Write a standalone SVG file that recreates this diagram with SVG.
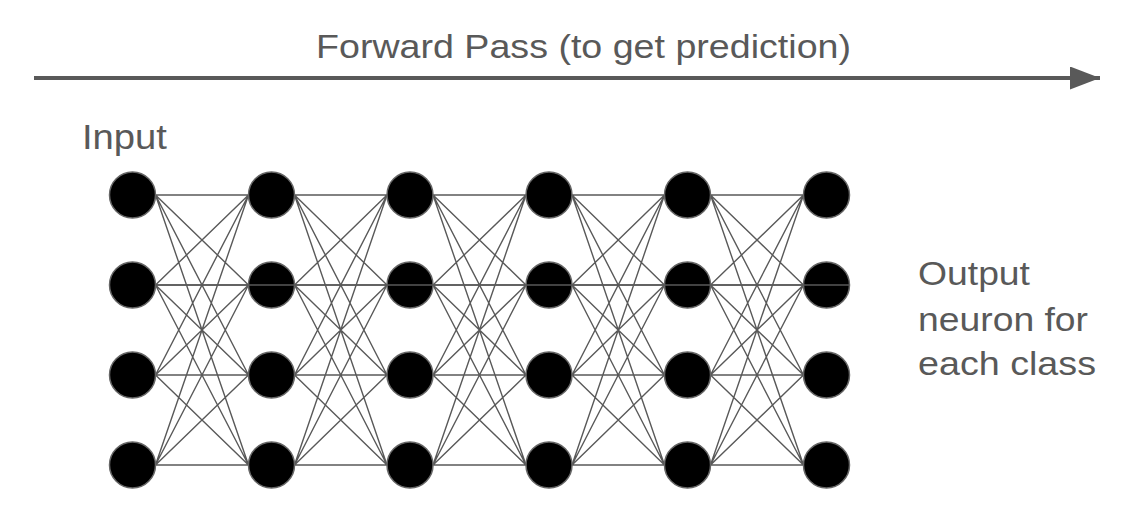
<svg xmlns="http://www.w3.org/2000/svg" width="1141" height="514" viewBox="0 0 1141 514">
<style>
.t{font-family:"Liberation Sans",Arial,sans-serif;fill:#595959;font-size:32.5px}
.c{stroke:#595959;stroke-width:1.4;fill:none}
.n{fill:#000;stroke:#666;stroke-width:1.5}
</style>
<defs>
<marker id="ah" markerUnits="userSpaceOnUse" markerWidth="32" markerHeight="24" refX="30" refY="11.5" orient="auto">
<path d="M0,0 L30,11.5 L0,23 Z" fill="#595959"/>
</marker>
</defs>
<rect width="1141" height="514" fill="#fff"/>
<g id="title">
<text class="t" x="316" y="57.5" style="font-size:34px" textLength="535" lengthAdjust="spacingAndGlyphs">Forward Pass (to get prediction)</text>
<line x1="34" y1="78" x2="1100" y2="78" stroke="#595959" stroke-width="4" marker-end="url(#ah)"/>
</g>
<g id="label-input">
<text class="t" x="82" y="149" style="font-size:35px" textLength="85" lengthAdjust="spacingAndGlyphs">Input</text>
</g>
<g id="label-output">
<text class="t" x="918" y="285" textLength="112" lengthAdjust="spacingAndGlyphs">Output</text>
<text class="t" x="918" y="330.5" textLength="170" lengthAdjust="spacingAndGlyphs">neuron for</text>
<text class="t" x="918" y="375" textLength="178" lengthAdjust="spacingAndGlyphs">each class</text>
</g>
<g id="connectors" class="c">
<path d="M155.5,195L248.5,195M155.5,195L248.5,285M155.5,195L248.5,375M155.5,195L248.5,465M155.5,285L248.5,195M155.5,285L248.5,285M155.5,285L248.5,375M155.5,285L248.5,465M155.5,375L248.5,195M155.5,375L248.5,285M155.5,375L248.5,375M155.5,375L248.5,465M155.5,465L248.5,195M155.5,465L248.5,285M155.5,465L248.5,375M155.5,465L248.5,465"/>
<path d="M294.5,195L387,195M294.5,195L387,285M294.5,195L387,375M294.5,195L387,465M294.5,285L387,195M294.5,285L387,285M294.5,285L387,375M294.5,285L387,465M294.5,375L387,195M294.5,375L387,285M294.5,375L387,375M294.5,375L387,465M294.5,465L387,195M294.5,465L387,285M294.5,465L387,375M294.5,465L387,465"/>
<path d="M433,195L526,195M433,195L526,285M433,195L526,375M433,195L526,465M433,285L526,195M433,285L526,285M433,285L526,375M433,285L526,465M433,375L526,195M433,375L526,285M433,375L526,375M433,375L526,465M433,465L526,195M433,465L526,285M433,465L526,375M433,465L526,465"/>
<path d="M572,195L664.5,195M572,195L664.5,285M572,195L664.5,375M572,195L664.5,465M572,285L664.5,195M572,285L664.5,285M572,285L664.5,375M572,285L664.5,465M572,375L664.5,195M572,375L664.5,285M572,375L664.5,375M572,375L664.5,465M572,465L664.5,195M572,465L664.5,285M572,465L664.5,375M572,465L664.5,465"/>
<path d="M710.5,195L803.5,195M710.5,195L803.5,285M710.5,195L803.5,375M710.5,195L803.5,465M710.5,285L803.5,195M710.5,285L803.5,285M710.5,285L803.5,375M710.5,285L803.5,465M710.5,375L803.5,195M710.5,375L803.5,285M710.5,375L803.5,375M710.5,375L803.5,465M710.5,465L803.5,195M710.5,465L803.5,285M710.5,465L803.5,375M710.5,465L803.5,465"/>
</g>
<g id="layer1"><circle id="n1-1" class="n" cx="132.5" cy="195" r="23"/><circle id="n1-2" class="n" cx="132.5" cy="285" r="23"/><circle id="n1-3" class="n" cx="132.5" cy="375" r="23"/><circle id="n1-4" class="n" cx="132.5" cy="465" r="23"/></g>
<g id="layer2"><circle id="n2-1" class="n" cx="271.5" cy="195" r="23"/><circle id="n2-2" class="n" cx="271.5" cy="285" r="23"/><circle id="n2-3" class="n" cx="271.5" cy="375" r="23"/><circle id="n2-4" class="n" cx="271.5" cy="465" r="23"/></g>
<g id="layer3"><circle id="n3-1" class="n" cx="410" cy="195" r="23"/><circle id="n3-2" class="n" cx="410" cy="285" r="23"/><circle id="n3-3" class="n" cx="410" cy="375" r="23"/><circle id="n3-4" class="n" cx="410" cy="465" r="23"/></g>
<g id="layer4"><circle id="n4-1" class="n" cx="549" cy="195" r="23"/><circle id="n4-2" class="n" cx="549" cy="285" r="23"/><circle id="n4-3" class="n" cx="549" cy="375" r="23"/><circle id="n4-4" class="n" cx="549" cy="465" r="23"/></g>
<g id="layer5"><circle id="n5-1" class="n" cx="687.5" cy="195" r="23"/><circle id="n5-2" class="n" cx="687.5" cy="285" r="23"/><circle id="n5-3" class="n" cx="687.5" cy="375" r="23"/><circle id="n5-4" class="n" cx="687.5" cy="465" r="23"/></g>
<g id="layer6"><circle id="n6-1" class="n" cx="826.5" cy="195" r="23"/><circle id="n6-2" class="n" cx="826.5" cy="285" r="23"/><circle id="n6-3" class="n" cx="826.5" cy="375" r="23"/><circle id="n6-4" class="n" cx="826.5" cy="465" r="23"/></g>
<g id="overlay-line"><line class="c" x1="155.5" y1="285" x2="849.5" y2="285"/></g>
</svg>
